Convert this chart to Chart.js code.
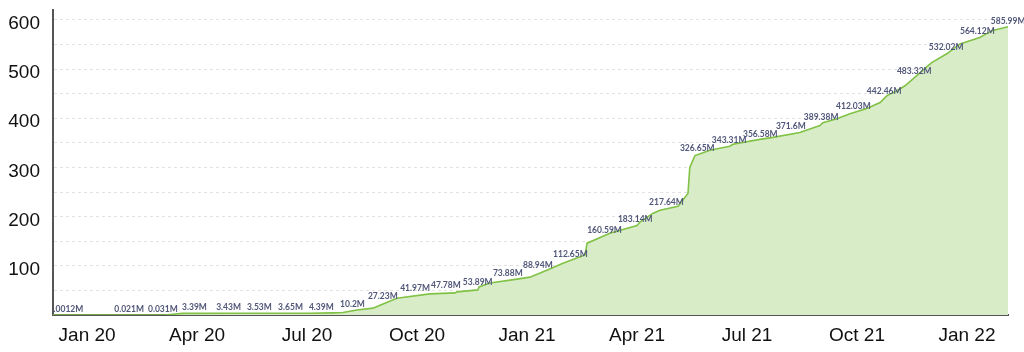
<!DOCTYPE html>
<html>
<head>
<meta charset="utf-8">
<script src="https://cdn.jsdelivr.net/npm/chart.js@4"></script>
<style>
  html, body { margin: 0; padding: 0; background: #fff; }
  #wrap { width: 1024px; height: 352px; position: relative; }
</style>
</head>
<body>
<div id="wrap"><canvas id="chart"></canvas></div>
<script>
'use strict';

// x is months since Jan 2020 (0 = Jan 20, 3 = Apr 20 ...)
const tickMonths = [0, 3, 6, 9, 12, 15, 18, 21, 24];
const tickLabels = ['Jan 20', 'Apr 20', 'Jul 20', 'Oct 20', 'Jan 21', 'Apr 21', 'Jul 21', 'Oct 21', 'Jan 22'];
const gridSteps = [50, 100, 150, 200, 250, 300, 350, 400, 450, 500, 550, 600];

// cumulative total (millions)
const lineMonths = [
  -0.93, 2.13, 2.6, 4.36, 6.05, 6.71, 6.98, 7.36, 7.8, 7.99, 8.45, 9.35, 10.04, 10.09,
  10.66, 10.69, 10.99, 11.73, 12.08, 12.54, 12.98, 13.58, 13.64, 14.26, 15.0, 15.08,
  15.44, 15.63, 16.12, 16.39, 16.44, 16.58, 16.99, 17.53, 17.62, 18.35, 18.71, 19.44,
  19.99, 20.07, 20.45, 20.81, 21.27, 21.63, 21.82, 22.09, 22.31, 22.53, 22.91, 23.04,
  23.45, 23.81, 24.35, 24.54, 24.68, 25.12
];
const lineValues = [
  0, 0.03, 3.39, 3.5, 3.7, 4.4, 5, 10, 14, 20, 34, 43, 45, 47,
  51, 57, 65, 73, 77, 91, 105, 122, 146, 166, 182, 189,
  207, 213, 221, 247, 300, 324, 335, 343, 347, 357, 361, 371,
  385, 391, 399, 409, 420, 432, 446, 456, 466, 480, 505, 513,
  531, 551, 564, 572, 578, 586
];

// annotated totals (millions)
const labelMonths = [
  -1.05, 0.74, 1.66, 2.59, 3.52, 4.36, 5.21, 6.05, 6.9, 7.66, 8.54, 9.38, 10.25, 11.07, 11.89,
  12.71, 13.64, 14.48, 15.33, 16.17, 17.04, 17.89, 18.79, 19.55, 20.43, 21.27, 22.09, 22.96, 23.81, 24.65
];
const labelValues = [
  0.0012, 0.021, 0.031, 3.39, 3.43, 3.53, 3.65, 4.39, 10.2, 27.23, 41.97, 47.78, 53.89, 73.88, 88.94,
  112.65, 160.59, 183.14, 217.64, 326.65, 343.31, 356.58, 371.6, 389.38, 412.03, 442.46, 483.32, 532.02, 564.12, 585.99
];

const toPoints = (xs, ys) => xs.map((x, i) => ({ x, y: ys[i] }));

// draws "NNN.NNM" text to the right of each annotated point, clipped to the plot
const valueLabels = {
  id: 'valueLabels',
  afterDatasetsDraw(chart) {
    const { ctx, chartArea } = chart;
    const meta = chart.getDatasetMeta(1);
    ctx.save();
    ctx.beginPath();
    ctx.rect(chartArea.left + 1, chartArea.top, chartArea.right - chartArea.left + 20, chartArea.bottom - chartArea.top);
    ctx.clip();
    ctx.font = 'bold 8.5px Lato';
    ctx.fillStyle = '#51577a';
    ctx.textAlign = 'left';
    ctx.textBaseline = 'alphabetic';
    meta.data.forEach((pt, i) => {
      ctx.fillText(labelValues[i] + 'M', pt.x, pt.y - 3);
    });
    ctx.restore();
  },
};

new Chart(document.getElementById('chart'), {
  type: 'scatter',
  data: {
    datasets: [
      {
        data: toPoints(lineMonths, lineValues),
        showLine: true,
        borderColor: '#80c245',
        backgroundColor: '#d9ecc8',
        borderWidth: 1.6,
        pointRadius: 0,
        tension: 0,
        fill: 'origin',
      },
      {
        data: toPoints(labelMonths, labelValues),
        showLine: false,
        pointRadius: 0,
      },
    ],
  },
  options: {
    responsive: true,
    maintainAspectRatio: false,
    animation: false,
    layout: { padding: { top: 10, right: 16, left: 0, bottom: 0 } },
    plugins: { legend: { display: false }, tooltip: { enabled: false } },
    scales: {
      x: {
        type: 'linear',
        min: -0.93,
        max: 25.12,
        afterBuildTicks: (scale) => { scale.ticks = tickMonths.map((v) => ({ value: v })); },
        afterFit: (scale) => { scale.height = 37; scale.paddingLeft = 0; scale.paddingRight = 0; },
        grid: { display: false, drawTicks: false },
        border: { display: true, color: '#555', width: 2 },
        ticks: {
          autoSkip: false,
          maxRotation: 0,
          padding: 9,
          color: '#111',
          font: { family: 'Liberation Sans, Arial, sans-serif', size: 19 },
          callback: (v, i) => tickLabels[i],
        },
      },
      y: {
        min: 0,
        max: 620,
        afterBuildTicks: (scale) => { scale.ticks = gridSteps.map((v) => ({ value: v })); },
        afterFit: (scale) => { scale.width = 53; scale.paddingTop = 0; scale.paddingBottom = 0; },
        grid: { color: '#e2e2e2', drawTicks: false },
        border: { display: true, color: '#555', width: 2, dash: [3, 3] },
        ticks: {
          padding: 13,
          labelOffset: 4,
          color: '#111',
          font: { family: 'Liberation Sans, Arial, sans-serif', size: 19 },
          callback: (v) => (v % 100 === 0 ? v : ''),
        },
      },
    },
  },
  plugins: [valueLabels],
});
</script>
</body>
</html>
